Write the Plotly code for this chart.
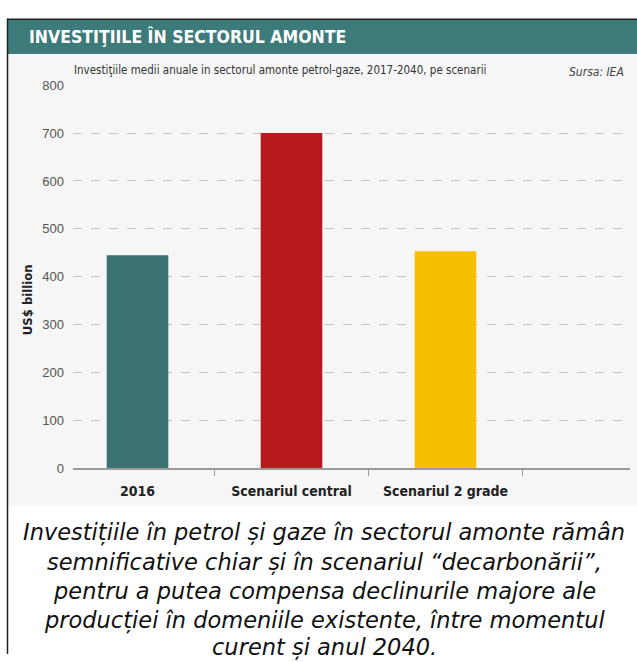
import plotly.graph_objects as go

categories = ["2016", "Scenariul central", "Scenariul 2 grade"]
values = [445, 700, 453]
bar_colors = ["#3b7272", "#b5191b", "#f6bf00"]
y_ticks = [0, 100, 200, 300, 400, 500, 600, 700, 800]

title = "INVESTIŢIILE ÎN SECTORUL AMONTE"
subtitle = "Investiţiile medii anuale in sectorul amonte petrol-gaze, 2017-2040, pe scenarii"
source = "Sursa: IEA"
y_title = "US$ billion"
caption_lines = [
    "Investițiile în petrol și gaze în sectorul amonte rămân",
    "semnificative chiar și în scenariul “decarbonării”,",
    "pentru a putea compensa declinurile majore ale",
    "producției în domeniile existente, între momentul",
    "curent și anul 2040.",
]

W, H = 637, 662
def px(x):
    return x / W
def py(y):
    return 1 - y / H

fig = go.Figure()
fig.add_trace(go.Bar(
    x=categories, y=values, marker=dict(color=bar_colors, line=dict(width=0)),
    width=0.4, hoverinfo="x+y",
))

narrow = "Liberation Sans Narrow, Arial Narrow, DejaVu Sans Condensed, sans-serif"

shapes = [
    dict(type="rect", xref="paper", yref="paper", x0=px(8), x1=1, y0=py(510), y1=py(48),
         fillcolor="#f6f6f6", line=dict(width=0), layer="below"),
    dict(type="rect", xref="paper", yref="paper", x0=px(8), x1=1, y0=py(48), y1=py(13),
         fillcolor="#3d7b7b", line=dict(width=0), layer="below"),
    dict(type="line", xref="paper", yref="paper", x0=px(7), x1=1, y0=py(12.5), y1=py(12.5),
         line=dict(color="#222222", width=1.5)),
    dict(type="line", xref="paper", yref="paper", x0=px(7.5), x1=px(7.5), y0=0, y1=py(12),
         line=dict(color="#222222", width=1.5)),
]

annotations = [
    dict(text="<b>" + title + "</b>", x=px(27), y=py(30), xref="paper", yref="paper",
         xanchor="left", yanchor="middle", showarrow=False,
         font=dict(family=narrow, size=17.5, color="white")),
    dict(text=subtitle, x=px(72), y=py(64), xref="paper", yref="paper",
         xanchor="left", yanchor="middle", showarrow=False,
         font=dict(family=narrow, size=11.5, color="#333333")),
    dict(text="<i>" + source + "</i>", x=px(626), y=py(66), xref="paper", yref="paper",
         xanchor="right", yanchor="middle", showarrow=False,
         font=dict(family=narrow, size=12, color="#444444")),
    dict(text="<b>" + y_title + "</b>", x=px(27), y=py(300), xref="paper", yref="paper",
         xanchor="center", yanchor="middle", showarrow=False, textangle=-90,
         font=dict(family=narrow, size=13, color="#222222")),
]
cap_y = [538, 568, 598, 628, 655]
for t, yy in zip(caption_lines, cap_y):
    annotations.append(dict(
        text="<i>" + t + "</i>", x=px(324), y=py(yy), xref="paper", yref="paper",
        xanchor="center", yanchor="middle", showarrow=False,
        font=dict(family="DejaVu Sans, Verdana, sans-serif", size=22.5, color="#111111")))

fig.update_layout(
    width=W, height=H, margin=dict(l=0, r=0, t=0, b=0),
    paper_bgcolor="white", plot_bgcolor="rgba(0,0,0,0)",
    showlegend=False, shapes=shapes, annotations=annotations,
    xaxis=dict(
        domain=[px(73), px(630)], type="category",
        range=[(73 - 137.5) / 154, (630 - 137.5) / 154],
        showgrid=False, showline=True, linecolor="#9a9a9a", linewidth=1.5,
        ticks="outside", tickson="boundaries", ticklen=6, tickcolor="#9a9a9a",
        tickfont=dict(family=narrow, size=14, color="#222222"),
        tickprefix="<b>", ticksuffix="</b>", ticklabelstandoff=9, fixedrange=True,
    ),
    yaxis=dict(
        domain=[py(472), py(80)], range=[0, 800],
        tickvals=y_ticks, ticktext=[str(v) for v in y_ticks],
        showgrid=True, gridcolor="#c4c4c4", griddash="dash", gridwidth=1,
        zeroline=False, showline=False, ticks="",
        tickfont=dict(family="Liberation Sans, Arial, sans-serif", size=13, color="#555555"),
        ticklabelstandoff=8, fixedrange=True,
    ),
)

fig.write_html("out.html")
